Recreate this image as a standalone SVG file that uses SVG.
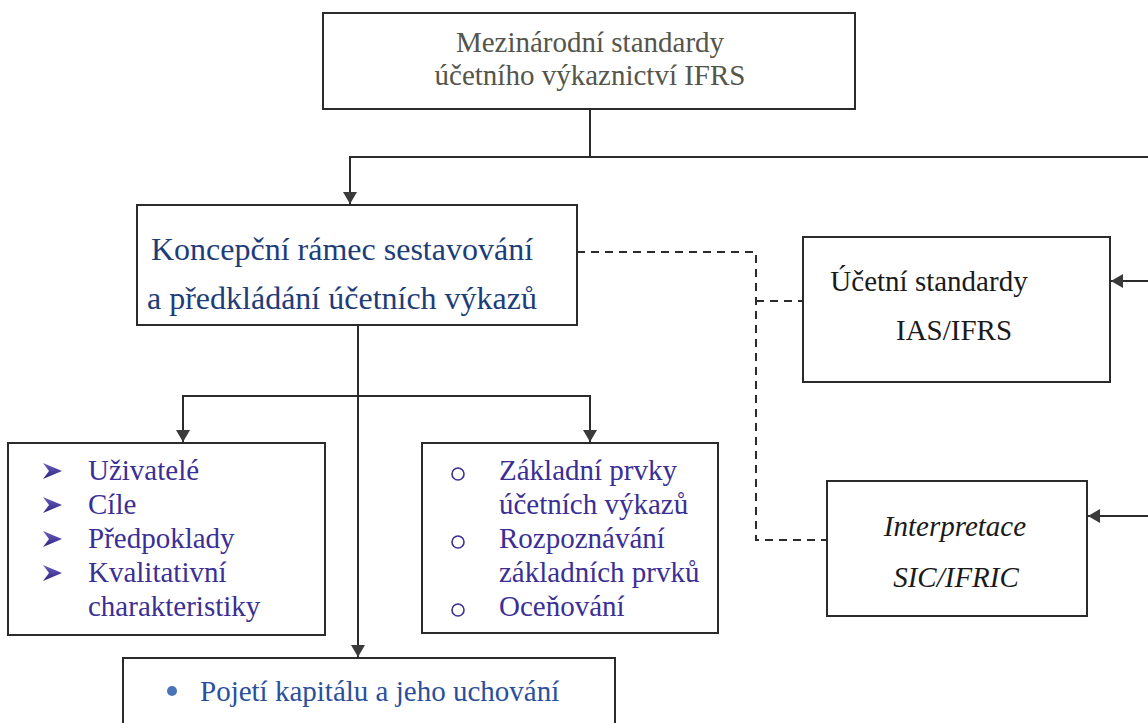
<svg xmlns="http://www.w3.org/2000/svg" width="1148" height="723" viewBox="0 0 1148 723">
<style>
.box{fill:#fff;stroke:#2b2b2b;stroke-width:2}
.ln{fill:none;stroke:#2b2b2b;stroke-width:2}
.dash{fill:none;stroke:#2b2b2b;stroke-width:2;stroke-dasharray:8,6}
.gray{fill:#55554a}
.navy{fill:#1d3d78}
.purp{fill:#3b2f95}
.blk{fill:#1a1a1a}
.blue{fill:#2a4f9c}
.ring{fill:none;stroke:#3b2f95;stroke-width:1.6}
.arr{fill:url(#bg)}
</style>
<defs>
<marker id="ah" viewBox="0 0 12 14" refX="12" refY="7" markerWidth="12" markerHeight="14" markerUnits="userSpaceOnUse" orient="auto">
<path d="M0,0 L12,7 L0,14 Z" fill="#3a3a3a"/>
</marker>
<linearGradient id="bg" x1="0" y1="0" x2="0" y2="1">
<stop offset="0" stop-color="#6a5fc0"/>
<stop offset="1" stop-color="#2e2480"/>
</linearGradient>
<path id="bul" d="M0,-8 L19,0 L0,8 L6,0 Z"/>
</defs>
<rect width="1148" height="723" fill="#fff"/>
<g id="connectors">
<path class="ln" d="M590,109 V157"/>
<path class="ln" d="M1148,157 H350 V204" marker-end="url(#ah)"/>
<path class="ln" d="M1148,281 H1111" marker-end="url(#ah)"/>
<path class="ln" d="M1148,516 H1088" marker-end="url(#ah)"/>
<path class="ln" d="M358,325 V657" marker-end="url(#ah)"/>
<path class="ln" d="M358,396 H183 V442" marker-end="url(#ah)"/>
<path class="ln" d="M358,396 H590 V442" marker-end="url(#ah)"/>
<path class="dash" d="M577,252 H756 V540 H827"/>
<path class="dash" d="M756,301 H803"/>
</g>
<g font-family="Liberation Serif, Times New Roman, serif" font-size="29">
<g id="n-ifrs">
<rect class="box" x="323" y="13" width="532" height="96"/>
<text class="gray" x="590" y="52" text-anchor="middle">Mezinárodní standardy</text>
<text class="gray" x="590" y="85" text-anchor="middle">účetního výkaznictví IFRS</text>
</g>
<g id="n-ramec">
<rect class="box" x="137" y="205" width="440" height="120"/>
<text class="navy" x="342" y="260" text-anchor="middle" font-size="32">Koncepční rámec sestavování</text>
<text class="navy" x="342" y="309" text-anchor="middle" font-size="32">a předkládání účetních výkazů</text>
</g>
<g id="n-standardy">
<rect class="box" x="803" y="237" width="307" height="145"/>
<text class="blk" x="929" y="291" text-anchor="middle">Účetní standardy</text>
<text class="blk" x="954" y="340" text-anchor="middle">IAS/IFRS</text>
</g>
<g id="n-interpretace">
<rect class="box" x="827" y="481" width="260" height="135"/>
<text class="blk" x="955" y="536" text-anchor="middle" font-style="italic">Interpretace</text>
<text class="blk" x="956" y="587" text-anchor="middle" font-style="italic">SIC/IFRIC</text>
</g>
<g id="n-uzivatele">
<rect class="box" x="8" y="443" width="317" height="192"/>
<use href="#bul" class="arr" x="43" y="471"/>
<use href="#bul" class="arr" x="43" y="505"/>
<use href="#bul" class="arr" x="43" y="539"/>
<use href="#bul" class="arr" x="43" y="573"/>
<g class="purp">
<text x="88" y="480">Uživatelé</text>
<text x="88" y="514">Cíle</text>
<text x="88" y="548">Předpoklady</text>
<text x="88" y="582">Kvalitativní</text>
<text x="88" y="616">charakteristiky</text>
</g>
</g>
<g id="n-prvky">
<rect class="box" x="422" y="443" width="296" height="190"/>
<circle class="ring" cx="458" cy="474" r="6"/>
<circle class="ring" cx="458" cy="542" r="6"/>
<circle class="ring" cx="458" cy="610" r="6"/>
<g class="purp">
<text x="499" y="480">Základní prvky</text>
<text x="499" y="514">účetních výkazů</text>
<text x="499" y="548">Rozpoznávání</text>
<text x="499" y="582">základních prvků</text>
<text x="499" y="616">Oceňování</text>
</g>
</g>
<g id="n-kapital">
<rect class="box" x="123" y="658" width="492" height="80"/>
<circle cx="172" cy="691" r="5" fill="#4a73b8"/>
<text class="blue" x="200" y="701">Pojetí kapitálu a jeho uchování</text>
</g>
</g>
</svg>
